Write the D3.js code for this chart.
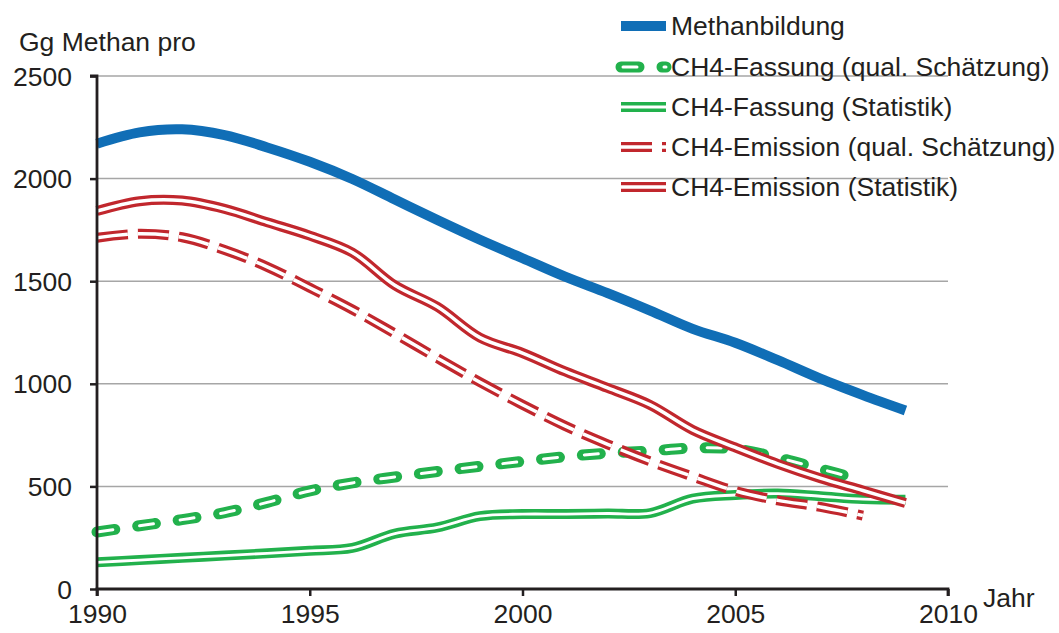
<!DOCTYPE html>
<html><head><meta charset="utf-8">
<script src="https://cdn.jsdelivr.net/npm/d3@7"></script>
<style>
html,body{margin:0;padding:0;background:#fff;}
svg text{font-family:"Liberation Sans",Arial,Helvetica,sans-serif;fill:#231f20;}
</style></head>
<body>
<svg id="chart" width="1059" height="633"></svg>
<script>
const years = [1990,1991,1992,1993,1994,1995,1996,1997,1998,1999,2000,2001,2002,2003,2004,2005,2006,2007,2008,2009];
const methanbildung = [2170,2225,2240,2212,2152,2082,1998,1898,1798,1702,1612,1522,1442,1357,1268,1200,1115,1025,945,870];
const emissionStatistik = [1842,1890,1893,1852,1787,1722,1640,1480,1375,1225,1150,1060,980,897,775,690,610,540,480,419];
const emissionSchaetzung = [1712,1731,1714,1652,1570,1468,1362,1245,1125,1008,898,795,705,622,548,478,432,400,358];
const fassungStatistik = [130,141,152,163,174,186,200,270,300,355,365,365,368,370,440,458,465,452,438,435];
const fassungSchaetzung = [278,308,338,372,422,478,517,546,573,598,622,645,662,673,687,682,640,585,530];
const yTicks = [0,500,1000,1500,2000,2500];
const xTicks = [1990,1995,2000,2005,2010];
const legendLabels = ["Methanbildung","CH4-Fassung (qual. Schätzung)","CH4-Fassung (Statistik)","CH4-Emission (qual. Schätzung)","CH4-Emission (Statistik)"];

const blue = "#106eb6", red = "#c1272d", green = "#22b14c", axisCol = "#231f20", gridCol = "#a6a6a6";
const FS = 26.5;

const svg = d3.select("#chart");
const x = d3.scaleLinear().domain([1990,2010]).range([97,948]);
const y = d3.scaleLinear().domain([0,2500]).range([589,76]);

// grid
svg.append("g").selectAll("line").data(yTicks.filter(d=>d>0)).join("line")
  .attr("x1",x(1990)).attr("x2",x(2010)).attr("y1",d=>y(d)).attr("y2",d=>y(d))
  .attr("stroke",gridCol).attr("stroke-width",1.5);

const line = d3.line().x((d,i)=>x(years[i])).y(d=>y(d)).curve(d3.curveCatmullRom.alpha(0.5));

function dbl(data, col, w, inner, opts={}) {
  const g = svg.append("g");
  const o = g.append("path").attr("d", line(data)).attr("fill","none").attr("stroke",col)
    .attr("stroke-width",w).attr("stroke-linecap",opts.cap||"butt").attr("stroke-linejoin","round");
  const i = g.append("path").attr("d", line(data)).attr("fill","none").attr("stroke","#fff")
    .attr("stroke-width",inner).attr("stroke-linecap",opts.cap||"butt").attr("stroke-linejoin","round");
  if (opts.dash) { o.attr("stroke-dasharray",opts.dash); }
  if (opts.idash) { i.attr("stroke-dasharray",opts.idash).attr("stroke-dashoffset",opts.ioff||0); }
  return g;
}

dbl(fassungStatistik, green, 10, 2.8);
dbl(fassungSchaetzung, green, 11, 3, {cap:"round", dash:"18,23", idash:"14,27", ioff:-2});
dbl(emissionSchaetzung, red, 10, 3.5, {dash:"31,10", idash:"31,10"});
dbl(emissionStatistik, red, 10, 3.5);
svg.append("path").attr("d", line(methanbildung)).attr("fill","none").attr("stroke",blue).attr("stroke-width",10);

// axes
const yAxis = d3.axisLeft(y).tickValues(yTicks).tickSize(7).tickPadding(18).tickFormat(d3.format("d"));
const gy = svg.append("g").attr("transform",`translate(${x(1990)},0)`).call(yAxis);
const xAxis = d3.axisBottom(x).tickValues(xTicks).tickSize(7).tickPadding(8).tickFormat(d3.format("d"));
const gx = svg.append("g").attr("transform",`translate(0,${y(0)})`).call(xAxis);
[gx,gy].forEach(g=>{
  g.select(".domain").attr("stroke",axisCol).attr("stroke-width",2.8).attr("d", g===gy ? `M-7,${y(2500)}H0V${y(0)}` : `M${x(1990)},7V0H${x(2010)}V7`);
  g.selectAll(".tick line").attr("stroke",axisCol).attr("stroke-width",2.5);
  g.selectAll(".tick text").attr("font-size",FS).attr("fill",axisCol).style("font-family","'Liberation Sans',Arial,sans-serif");
});
gy.selectAll(".tick text").attr("dy","0.34em");
gx.selectAll(".tick text").attr("dy","0.72em");

svg.append("text").attr("x",19).attr("y",51).attr("font-size",FS).text("Gg Methan pro");
svg.append("text").attr("x",983).attr("y",607).attr("font-size",FS).text("Jahr");

// legend
const lg = svg.append("g");
const ly = [26,67,107,147,187];
const lx0 = 621, lx1 = 666;
legendLabels.forEach((t,i)=>{
  lg.append("text").attr("x",671).attr("y",ly[i]+9).attr("font-size",FS).text(t);
});
const lline = d3.line();
lg.append("path").attr("d",lline([[lx0,ly[0]],[lx1,ly[0]]])).attr("stroke",blue).attr("stroke-width",10);
function ldbl(i,col,w,inner,opts={}){
  const p = lline([[lx0,ly[i]],[lx1,ly[i]]]);
  const o = lg.append("path").attr("d",p).attr("stroke",col).attr("stroke-width",w).attr("stroke-linecap",opts.cap||"butt");
  const n = lg.append("path").attr("d",p).attr("stroke","#fff").attr("stroke-width",inner).attr("stroke-linecap",opts.cap||"butt");
  if(opts.dash) o.attr("stroke-dasharray",opts.dash);
  if(opts.idash) n.attr("stroke-dasharray",opts.idash).attr("stroke-dashoffset",opts.ioff||0);
}
ldbl(1, green, 11, 3, {cap:"round", dash:"18,23", idash:"14,27", ioff:-2});
ldbl(2, green, 10, 2.8);
ldbl(3, red, 10, 3.5, {dash:"31,10", idash:"31,10"});
ldbl(4, red, 10, 3.5);
</script>
</body></html>
